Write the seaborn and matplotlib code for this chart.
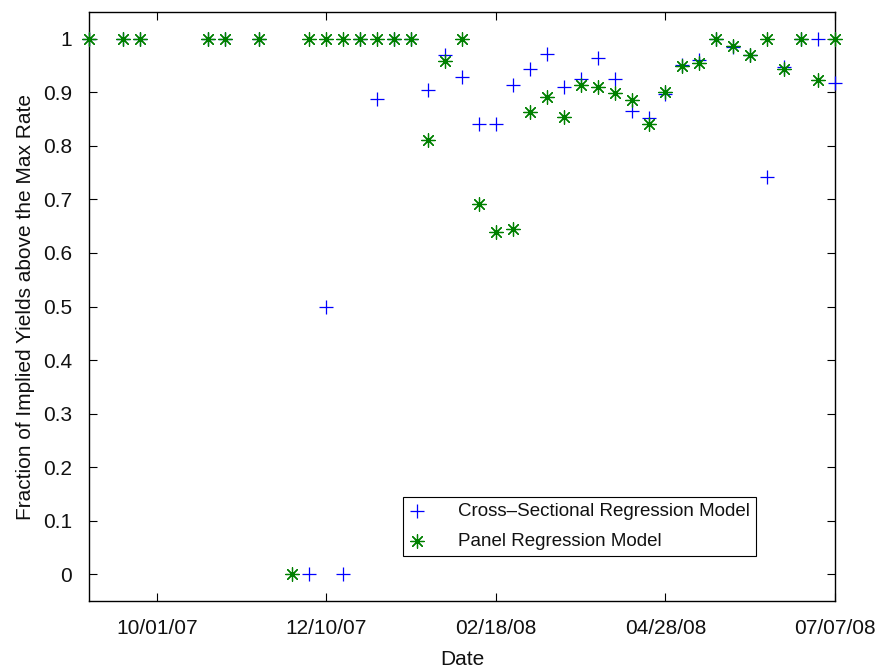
import matplotlib
matplotlib.use("Agg")
import matplotlib.pyplot as plt
import matplotlib.dates as mdates
from matplotlib.ticker import FormatStrFormatter
import numpy as np
import pandas as pd
import seaborn as sns

# ---------------- data ----------------
dates = ["2007-09-03", "2007-09-17", "2007-09-24", "2007-10-22", "2007-10-29",
         "2007-11-12", "2007-11-26", "2007-12-03", "2007-12-10", "2007-12-17",
         "2007-12-24", "2007-12-31", "2008-01-07", "2008-01-14", "2008-01-21",
         "2008-01-28", "2008-02-04", "2008-02-11", "2008-02-18", "2008-02-25",
         "2008-03-03", "2008-03-10", "2008-03-17", "2008-03-24", "2008-03-31",
         "2008-04-07", "2008-04-14", "2008-04-21", "2008-04-28", "2008-05-05",
         "2008-05-12", "2008-05-19", "2008-05-26", "2008-06-02", "2008-06-09",
         "2008-06-16", "2008-06-23", "2008-06-30", "2008-07-07"]

cross_sectional = [1, 1, 1, 1, 1,
                   1, np.nan, 0, 0.5, 0,
                   1, 0.888, 1, 1, 0.905,
                   0.969, 0.929, 0.840, 0.840, 0.913,
                   0.944, 0.971, 0.909, 0.925, 0.965,
                   0.924, 0.866, 0.852, 0.897, 0.951,
                   0.961, 1, 0.984, 0.969, 0.742,
                   0.947, 1, 1, 0.918]

panel = [1, 1, 1, 1, 1,
         1, 0, 1, 1, 1,
         1, 1, 1, 1, 0.811,
         0.958, 1, 0.691, 0.639, 0.644,
         0.864, 0.891, 0.854, 0.913, 0.910,
         0.898, 0.886, 0.840, 0.901, 0.949,
         0.954, 1, 0.987, 0.969, 1,
         0.943, 1, 0.923, 1]

x_ticks = ["2007-10-01", "2007-12-10", "2008-02-18", "2008-04-28", "2008-07-07"]
x_limits = ["2007-09-03", "2008-07-07"]
y_ticks = [0, 0.1, 0.2, 0.3, 0.4, 0.5, 0.6, 0.7, 0.8, 0.9, 1]

series_names = ["Cross\u2013Sectional Regression Model", "Panel Regression Model"]

df = pd.DataFrame({"Date": pd.to_datetime(dates),
                   "cross": cross_sectional,
                   "panel": panel})

# ---------------- style ----------------
sns.set_theme(style="white")
plt.rcParams["font.family"] = ["Liberation Sans", "DejaVu Sans"]
FS = 15
LEG_FS = 13.5

fig = plt.figure(figsize=(8.78, 6.69), dpi=100)
ax = fig.add_axes([89 / 878, 68 / 669, 746 / 878, 589 / 669])

sns.scatterplot(data=df.dropna(subset=["cross"]), x="Date", y="cross", ax=ax,
                marker="+", color="#0000ff", s=95, linewidth=0.9,
                label=series_names[0], zorder=3, clip_on=False)
sns.scatterplot(data=df, x="Date", y="panel", ax=ax,
                marker=(8, 2, 0), color="#008000", s=95, linewidth=0.9,
                label=series_names[1], zorder=4, clip_on=False)

ax.set_xlim(pd.to_datetime(x_limits[0]), pd.to_datetime(x_limits[1]))
ax.set_ylim(-0.05, 1.05)
ax.set_xticks(pd.to_datetime(x_ticks))
ax.xaxis.set_major_formatter(mdates.DateFormatter("%m/%d/%y"))
ax.set_yticks(y_ticks)
ax.yaxis.set_major_formatter(FormatStrFormatter("%g"))

for sp in ax.spines.values():
    sp.set_visible(True)
    sp.set_color("black")
    sp.set_linewidth(1.0)
    sp.set_zorder(2)

ax.tick_params(axis="both", which="major", direction="in", length=5.5, width=0.8,
               colors="black", labelsize=FS, top=True, right=True,
               bottom=True, left=True)
ax.tick_params(axis="x", pad=13)
ax.tick_params(axis="y", pad=12)
for lab in ax.get_xticklabels() + ax.get_yticklabels():
    lab.set_color("#111111")

ax.set_xlabel("Date", fontsize=FS, color="#111111")
ax.set_ylabel("Fraction of Implied Yields above the Max Rate", fontsize=FS,
              color="#111111")
ax.xaxis.set_label_coords(0.5, -0.083)
ax.yaxis.set_label_coords(-0.0724, 0.5)
ax.grid(False)

leg = ax.legend(loc="lower left", bbox_to_anchor=(0.4205, 0.0764),
                borderaxespad=0, fontsize=LEG_FS, frameon=True, fancybox=False,
                framealpha=1, edgecolor="black", borderpad=0.33,
                handlelength=0.83, handletextpad=1.79, labelspacing=0.66,
                scatterpoints=1)
leg.get_frame().set_linewidth(0.8)
for t in leg.get_texts():
    t.set_color("#111111")

fig.savefig("out.png", dpi=100, facecolor="white")
